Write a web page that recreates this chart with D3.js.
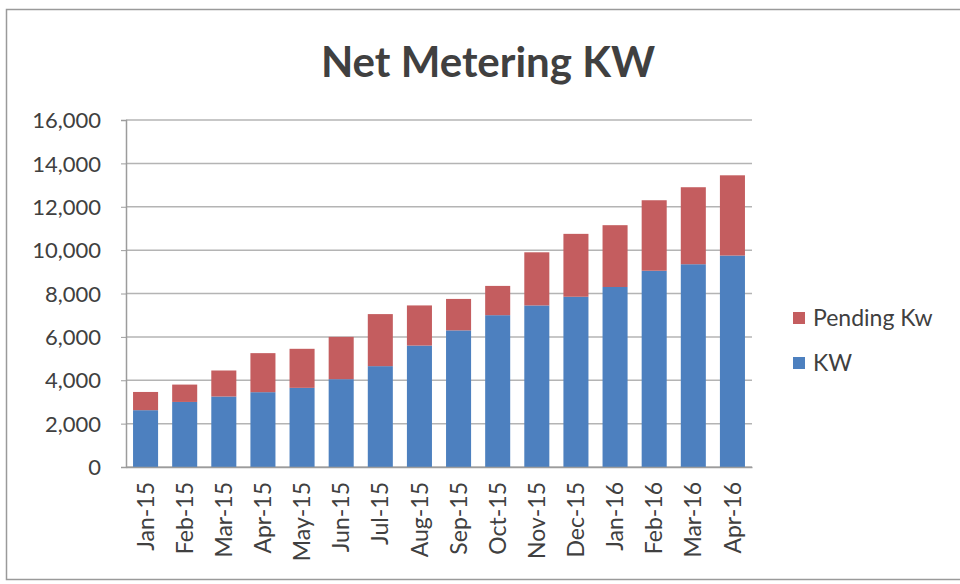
<!DOCTYPE html>
<html>
<head>
<meta charset="utf-8">
<script src="https://cdn.jsdelivr.net/npm/d3@7"></script>
<style>
  body { margin: 0; background: #fff; }
  text { font-family: Lato, "Open Sans", sans-serif; fill: #404040; }
</style>
</head>
<body>
<div id="chart"></div>
<script>
// months on the x axis
const months = ["Jan-15", "Feb-15", "Mar-15", "Apr-15", "May-15", "Jun-15", "Jul-15", "Aug-15",
    "Sep-15", "Oct-15", "Nov-15", "Dec-15", "Jan-16", "Feb-16", "Mar-16", "Apr-16"];

// installed KW (blue, bottom)
const kw = [2620, 3000, 3250, 3450, 3650, 4050, 4650, 5600,
    6300, 7000, 7450, 7850, 8300, 9050, 9350, 9750];

// pending KW (red, stacked on top)
const pendingKw = [840, 800, 1200, 1800, 1800, 1950, 2400, 1850,
    1450, 1350, 2450, 2900, 2850, 3250, 3550, 3700];

const yTicks = [0, 2000, 4000, 6000, 8000, 10000, 12000, 14000, 16000];

const seriesNames = ["KW", "Pending Kw"];
const colors = { "KW": "#4d80bf", "Pending Kw": "#c45d5f" };

const width = 960, height = 584;
const margin = { left: 126, right: 208, top: 120, bottom: 117 };

const svg = d3.select("#chart")
    .append("svg")
    .attr("width", width)
    .attr("height", height);

// outer chart border (scanned page frame)
svg.append("rect")
    .attr("x", 6.5).attr("y", 9.5)
    .attr("width", 970).attr("height", 570)
    .attr("fill", "none")
    .attr("stroke", "#9a9a9a")
    .attr("stroke-width", 1.5);

const rows = months.map((m, i) => ({ month: m, "KW": kw[i], "Pending Kw": pendingKw[i] }));
const stacked = d3.stack().keys(seriesNames)(rows);

const x = d3.scaleBand()
    .domain(months)
    .range([margin.left, width - margin.right])
    .paddingInner(0.36)
    .paddingOuter(0.18);

const y = d3.scaleLinear()
    .domain([0, 16000])
    .range([height - margin.bottom, margin.top]);

// gridlines
svg.append("g")
    .selectAll("line")
    .data(yTicks)
    .enter()
    .append("line")
    .attr("x1", margin.left)
    .attr("x2", width - margin.right)
    .attr("y1", d => y(d))
    .attr("y2", d => y(d))
    .attr("stroke", "#b4b4b4")
    .attr("stroke-width", 1.5);

// bars
svg.append("g")
    .selectAll("g")
    .data(stacked)
    .enter()
    .append("g")
    .attr("fill", d => colors[d.key])
    .selectAll("rect")
    .data(d => d)
    .enter()
    .append("rect")
    .attr("x", d => x(d.data.month))
    .attr("y", d => y(d[1]))
    .attr("width", x.bandwidth())
    .attr("height", d => y(d[0]) - y(d[1]));

// y axis
const yAxis = svg.append("g")
    .attr("transform", "translate(" + margin.left + ",0)")
    .call(d3.axisLeft(y).tickValues(yTicks).tickFormat(d3.format(",")).tickSize(5).tickPadding(20));
yAxis.select(".domain").attr("stroke", "#9c9c9c").attr("stroke-width", 1.5);
yAxis.selectAll(".tick line").attr("stroke", "#9c9c9c");
yAxis.selectAll("text")
    .style("font-size", "22px")
    .attr("fill", "#404040")
    .attr("dy", "0.35em");

// x axis
const xAxis = svg.append("g")
    .attr("transform", "translate(0," + (height - margin.bottom) + ")")
    .call(d3.axisBottom(x).tickSize(0));
xAxis.select(".domain").attr("stroke", "#9c9c9c").attr("stroke-width", 1.5);
xAxis.selectAll("text")
    .style("font-size", "23px")
    .attr("fill", "#404040")
    .attr("text-anchor", "end")
    .attr("transform", "translate(0,15) rotate(-90)")
    .attr("x", 0)
    .attr("y", 0)
    .attr("dy", "0.35em");

// title
svg.append("text")
    .attr("x", 488)
    .attr("y", 77)
    .attr("text-anchor", "middle")
    .style("font-size", "42px")
    .style("font-weight", "bold")
    .attr("fill", "#262626")
    .text("Net Metering KW");

// legend
const legend = svg.append("g")
    .selectAll("g")
    .data(["Pending Kw", "KW"])
    .enter()
    .append("g")
    .attr("transform", (d, i) => "translate(793," + (312 + i * 45) + ")");

legend.append("rect")
    .attr("width", 12)
    .attr("height", 12)
    .attr("fill", d => colors[d]);

legend.append("text")
    .attr("x", 20)
    .attr("y", 6)
    .attr("dy", "0.35em")
    .style("font-size", "23px")
    .text(d => d);
</script>
</body>
</html>
